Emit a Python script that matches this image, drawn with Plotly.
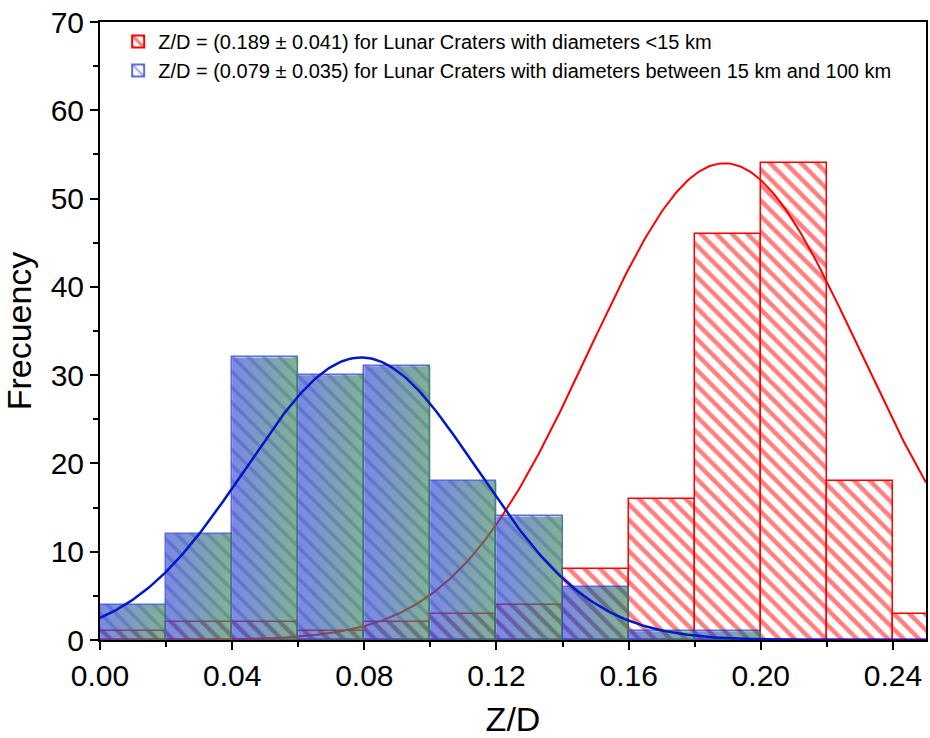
import numpy as np
import plotly.graph_objects as go

# Histogram bins (Z/D), width 0.02
bin_left = [0.00, 0.02, 0.04, 0.06, 0.08, 0.10, 0.12, 0.14, 0.16, 0.18, 0.20, 0.22, 0.24]
bin_width = 0.02

# Craters with diameters < 15 km
small_counts = [1, 2, 2, 1, 2, 3, 4, 8, 16, 46, 54, 18, 3]
# Craters with diameters between 15 km and 100 km
large_counts = [4, 12, 32, 30, 31, 18, 14, 6, 1, 1]

# Gaussian fit parameters: mean, standard deviation, peak height
small_fit = dict(mean=0.189, sd=0.041, peak=54)
large_fit = dict(mean=0.079, sd=0.035, peak=32)

small_label = "Z/D = (0.189 ± 0.041) for Lunar Craters with diameters <15 km"
large_label = "Z/D = (0.079 ± 0.035) for Lunar Craters with diameters between 15 km and 100 km"

x_ticks = [0.00, 0.04, 0.08, 0.12, 0.16, 0.20, 0.24]
y_ticks = [0, 10, 20, 30, 40, 50, 60, 70]

FONT = "Liberation Sans, Arial, sans-serif"


def gauss(x, fit):
    return fit["peak"] * np.exp(-((x - fit["mean"]) ** 2) / (2 * fit["sd"] ** 2))


centers_small = [b + bin_width / 2 for b in bin_left[:len(small_counts)]]
centers_large = [b + bin_width / 2 for b in bin_left[:len(large_counts)]]
xs = np.linspace(0, 0.25, 400)

fig = go.Figure()

# Red hatched histogram
fig.add_trace(go.Bar(
    x=centers_small, y=small_counts, width=bin_width,
    name=small_label,
    marker=dict(
        color="white",
        line=dict(color="rgb(255,0,0)", width=1.5),
        pattern=dict(shape="\\", fgcolor="rgb(255,0,0)", bgcolor="white",
                     size=11, solidity=0.4),
    ),
))

# Blue hatched histogram (hatch + outline)
fig.add_trace(go.Bar(
    x=centers_large, y=large_counts, width=bin_width,
    name=large_label,
    marker=dict(
        color="rgba(95,130,190,0.55)",
        line=dict(color="rgba(40,60,215,0.75)", width=1.5),
        pattern=dict(shape="\\", fgcolor="rgba(25,45,185,0.7)",
                     bgcolor="rgba(95,130,190,0.0)", size=11, solidity=0.32),
    ),
))

# Red Gaussian fit
fig.add_trace(go.Scatter(
    x=xs, y=gauss(xs, small_fit), mode="lines",
    line=dict(color="rgb(255,0,0)", width=2), showlegend=False, hoverinfo="skip",
))

# Blue-to-green gradient body of each blue bar
for c, n in zip(centers_large, large_counts):
    x0, x1 = c - bin_width / 2, c + bin_width / 2
    fig.add_trace(go.Scatter(
        x=[x0, x1, x1, x0, x0], y=[0, 0, n, n, 0],
        mode="lines", line=dict(width=0), fill="toself",
        fillgradient=dict(type="horizontal",
                          colorscale=[[0, "rgba(55,75,215,0.66)"],
                                      [1, "rgba(65,140,90,0.66)"]]),
        showlegend=False, hoverinfo="skip",
    ))

# Blue Gaussian fit
fig.add_trace(go.Scatter(
    x=xs, y=gauss(xs, large_fit), mode="lines",
    line=dict(color="rgb(0,25,200)", width=2.5), showlegend=False, hoverinfo="skip",
))

fig.update_layout(
    width=930, height=738,
    margin=dict(l=100, r=2, t=22, b=98),
    paper_bgcolor="white", plot_bgcolor="white",
    barmode="overlay", bargap=0,
    font=dict(family=FONT, color="black"),
    showlegend=True,
    legend=dict(
        x=0.022, y=1.0, xanchor="left", yanchor="top",
        bgcolor="rgba(255,255,255,0)",
        font=dict(size=20, family=FONT),
        tracegroupgap=0, itemsizing="constant",
    ),
    xaxis=dict(
        range=[0, 0.25], tickvals=x_ticks, tickformat=".2f",
        ticks="outside", ticklen=8, tickwidth=2, tickcolor="black",
        minor=dict(dtick=0.02, tick0=0, ticks="outside", ticklen=5, tickwidth=2, tickcolor="black"),
        showline=True, linewidth=2, linecolor="black", mirror=True,
        showgrid=False, zeroline=False,
        tickfont=dict(size=30, family=FONT),
        title=dict(text="Z/D", font=dict(size=34, family=FONT), standoff=16),
    ),
    yaxis=dict(
        range=[0, 70], tickvals=y_ticks,
        ticks="outside", ticklen=8, tickwidth=2, tickcolor="black",
        minor=dict(dtick=5, tick0=0, ticks="outside", ticklen=5, tickwidth=2, tickcolor="black"),
        showline=True, linewidth=2, linecolor="black", mirror=True,
        showgrid=False, zeroline=False,
        tickfont=dict(size=30, family=FONT),
        title=dict(text="Frecuency", font=dict(size=34, family=FONT), standoff=10),
    ),
)

fig.write_html("out.html")
